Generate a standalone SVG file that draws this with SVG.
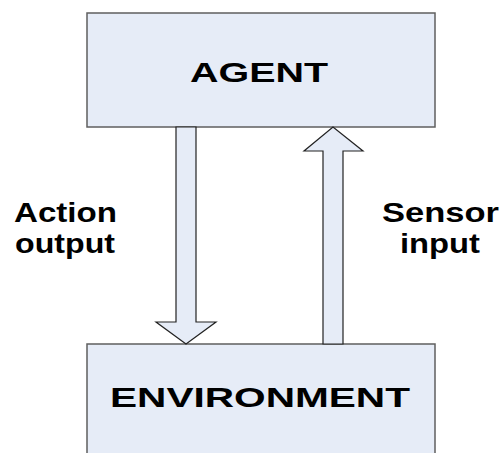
<svg xmlns="http://www.w3.org/2000/svg" width="503" height="453" viewBox="0 0 503 453">
<style>
.box{fill:#E6ECF7;stroke:#5f5f5f;stroke-width:1.5}
.arrow{fill:#E6ECF7;stroke:#222;stroke-width:1.2;stroke-linejoin:miter}
.t{font-family:"Liberation Sans",Arial,sans-serif;font-weight:bold;font-size:28px;fill:#000}
.l{font-family:"Liberation Sans",Arial,sans-serif;font-weight:bold;font-size:27.5px;fill:#000}
</style>
<rect x="0" y="0" width="503" height="453" fill="#fff"/>
<g id="agent">
<rect class="box" x="87" y="13" width="348" height="114"/>
<text class="t" x="190" y="82" textLength="138" lengthAdjust="spacingAndGlyphs">AGENT</text>
</g>
<g id="environment">
<rect class="box" x="87" y="344" width="348" height="120"/>
<text class="t" x="110" y="407" textLength="300" lengthAdjust="spacingAndGlyphs">ENVIRONMENT</text>
</g>
<g id="connectors">
<polygon class="arrow" points="176,127 196,127 196,322 216,322 186,344 156,322 176,322"/>
<polygon class="arrow" points="323,344 343,344 343,151 363,151 333,127 304,151 323,151"/>
</g>
<g id="labels">
<text class="l" x="14" y="222" textLength="103" lengthAdjust="spacingAndGlyphs">Action</text>
<text class="l" x="15" y="253" textLength="100" lengthAdjust="spacingAndGlyphs">output</text>
<text class="l" x="382" y="222" textLength="117" lengthAdjust="spacingAndGlyphs">Sensor</text>
<text class="l" x="400" y="253" textLength="80" lengthAdjust="spacingAndGlyphs">input</text>
</g>
</svg>
